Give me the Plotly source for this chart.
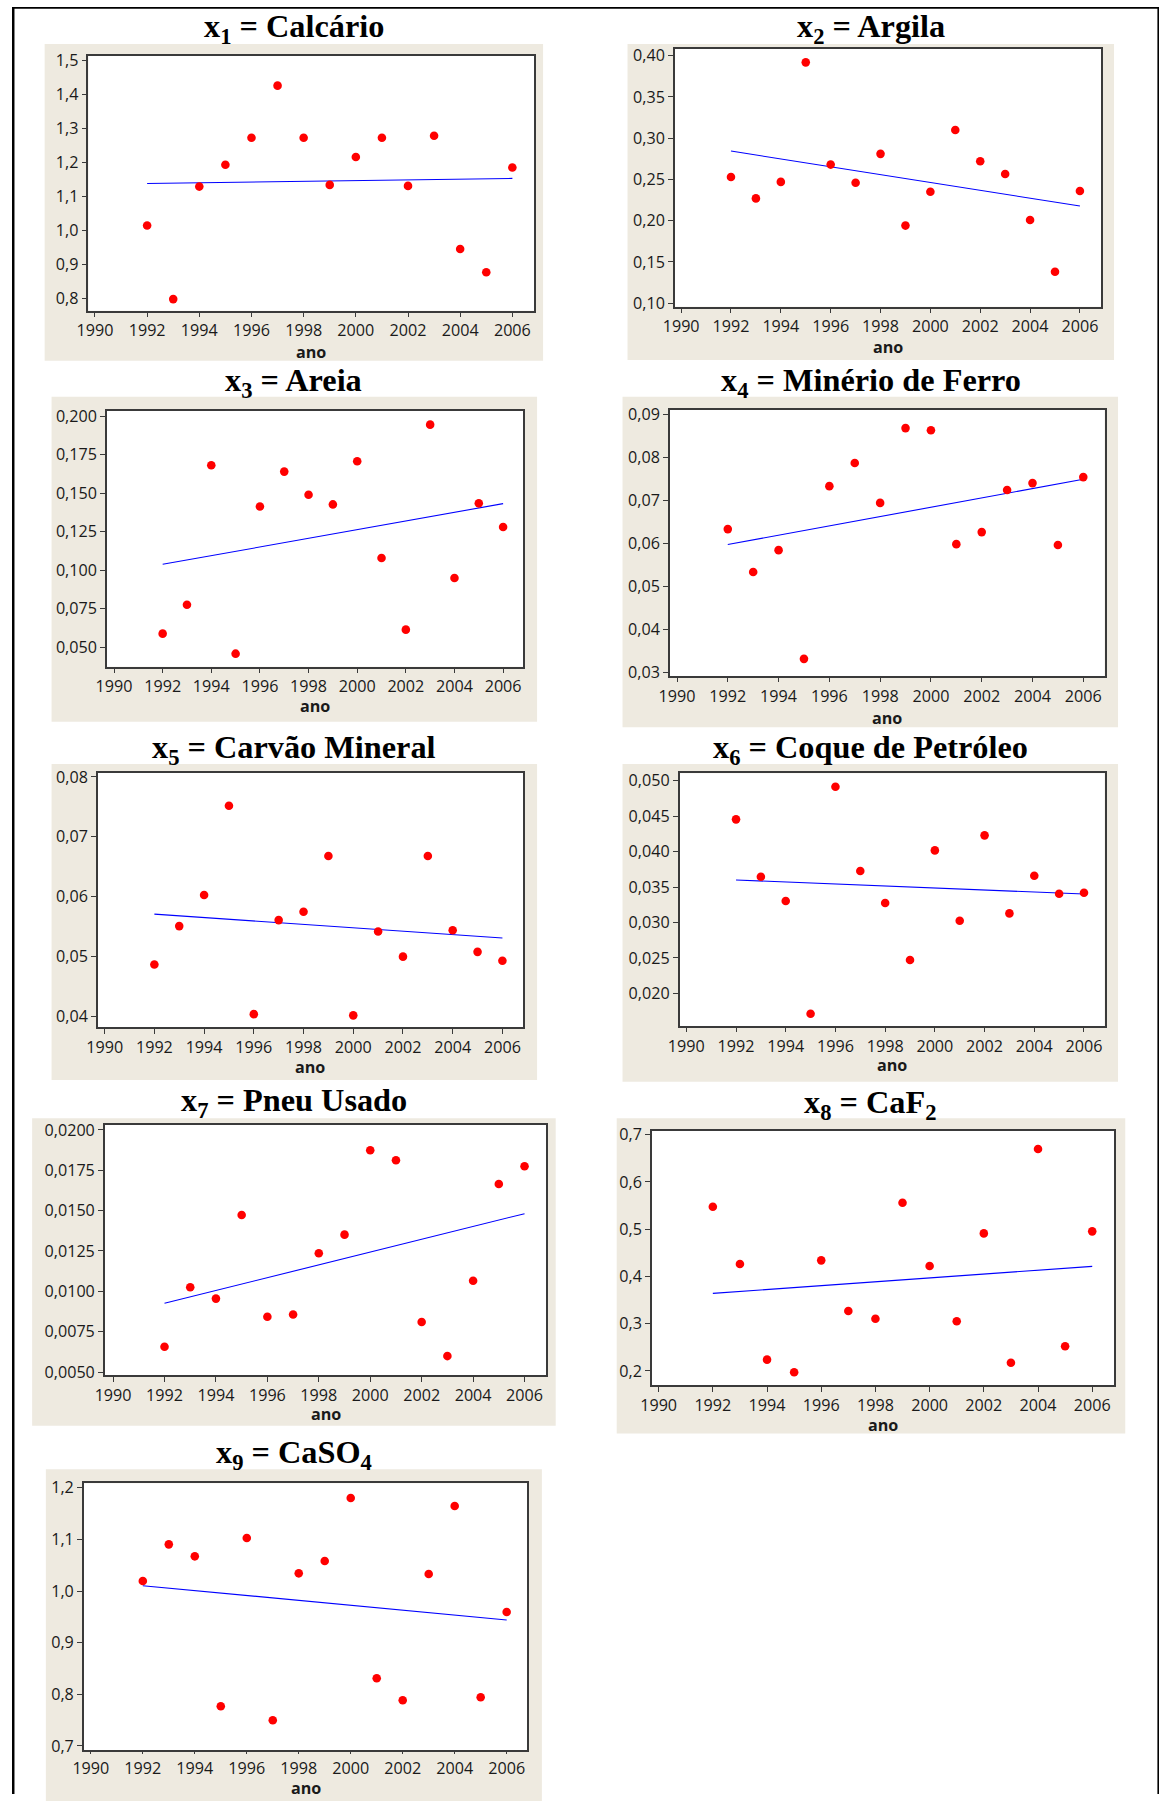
import plotly.graph_objects as go

# ---------------- data ----------------
years = [1992, 1993, 1994, 1995, 1996, 1997, 1998, 1999, 2000, 2001, 2002, 2003, 2004, 2005, 2006]
trend_years = [1992, 2006]

calcario = [1.015, 0.799, 1.129, 1.193, 1.272, 1.425, 1.272, 1.134, 1.216, 1.272, 1.131, 1.278, 0.946, 0.878, 1.185]
argila = [0.253, 0.227, 0.247, 0.392, 0.268, 0.246, 0.281, 0.194, 0.235, 0.310, 0.272, 0.2565, 0.2007, 0.138, 0.236]
areia = [0.0587, 0.0775, 0.168, 0.0457, 0.1413, 0.1639, 0.1489, 0.1426, 0.1706, 0.1078, 0.0613, 0.1944, 0.0948, 0.1433, 0.1279]
minerio_ferro = [0.0634, 0.0534, 0.0585, 0.0332, 0.0734, 0.0788, 0.0695, 0.0869, 0.0864, 0.0599, 0.0627, 0.0725, 0.0741, 0.0597, 0.0755]
carvao_mineral = [0.0487, 0.0551, 0.0603, 0.0752, 0.0404, 0.0561, 0.0575, 0.0668, 0.0402, 0.0542, 0.0500, 0.0668, 0.0544, 0.0508, 0.0493]
coque_petroleo = [0.04455, 0.03646, 0.03302, 0.01713, 0.04915, 0.03726, 0.03274, 0.0247, 0.04017, 0.03025, 0.04229, 0.03128, 0.0366, 0.03406, 0.0342]
pneu_usado = [0.00657, 0.01025, 0.00955, 0.01473, 0.00843, 0.00857, 0.01236, 0.01351, 0.01874, 0.01812, 0.0081, 0.00599, 0.01066, 0.01665, 0.01775]
caf2 = [0.5477, 0.4264, 0.224, 0.1972, 0.4341, 0.3269, 0.3107, 0.5561, 0.4221, 0.3051, 0.4912, 0.2176, 0.6697, 0.2522, 0.4955]
caso4 = [1.0194, 1.0903, 1.0671, 0.7768, 1.1026, 0.7497, 1.0342, 1.0581, 1.18, 0.831, 0.7884, 1.0329, 1.1645, 0.7942, 0.9594]

trend_calcario = [1.138, 1.153]
trend_argila = [0.2844, 0.2177]
trend_areia = [0.1037, 0.1431]
trend_minerio_ferro = [0.0598, 0.0750]
trend_carvao_mineral = [0.0571, 0.0531]
trend_coque_petroleo = [0.03599, 0.03401]
trend_pneu_usado = [0.00926, 0.01481]
trend_caf2 = [0.3643, 0.4214]
trend_caso4 = [1.0103, 0.9439]

titles = [
    "x<sub>1</sub> = Calcário",
    "x<sub>2</sub> = Argila",
    "x<sub>3</sub> = Areia",
    "x<sub>4</sub> = Minério de Ferro",
    "x<sub>5</sub> = Carvão Mineral",
    "x<sub>6</sub> = Coque de Petróleo",
    "x<sub>7</sub> = Pneu Usado",
    "x<sub>8</sub> = CaF<sub>2</sub>",
    "x<sub>9</sub> = CaSO<sub>4</sub>",
]
x_axis_title = "ano"
xtick_labels = ["1990", "1992", "1994", "1996", "1998", "2000", "2002", "2004", "2006"]

ytick_calcario = ["0,8", "0,9", "1,0", "1,1", "1,2", "1,3", "1,4", "1,5"]
ytick_argila = ["0,10", "0,15", "0,20", "0,25", "0,30", "0,35", "0,40"]
ytick_areia = ["0,050", "0,075", "0,100", "0,125", "0,150", "0,175", "0,200"]
ytick_minerio_ferro = ["0,03", "0,04", "0,05", "0,06", "0,07", "0,08", "0,09"]
ytick_carvao_mineral = ["0,04", "0,05", "0,06", "0,07", "0,08"]
ytick_coque_petroleo = ["0,020", "0,025", "0,030", "0,035", "0,040", "0,045", "0,050"]
ytick_pneu_usado = ["0,0050", "0,0075", "0,0100", "0,0125", "0,0150", "0,0175", "0,0200"]
ytick_caf2 = ["0,2", "0,3", "0,4", "0,5", "0,6", "0,7"]
ytick_caso4 = ["0,7", "0,8", "0,9", "1,0", "1,1", "1,2"]

series = [calcario, argila, areia, minerio_ferro, carvao_mineral, coque_petroleo, pneu_usado, caf2, caso4]
trends = [trend_calcario, trend_argila, trend_areia, trend_minerio_ferro, trend_carvao_mineral,
          trend_coque_petroleo, trend_pneu_usado, trend_caf2, trend_caso4]
yticks = [ytick_calcario, ytick_argila, ytick_areia, ytick_minerio_ferro, ytick_carvao_mineral,
          ytick_coque_petroleo, ytick_pneu_usado, ytick_caf2, ytick_caso4]

# ---------------- layout geometry (target picture pixels) ----------------
W, H = 1159, 1801
# correction for the observed picture transform (picture = A + B * page)
AX, BX = 12.5, 0.988
AY, BY = 6.9, 0.9923
SC = 1 / ((BX + BY) / 2)

# beige box (l, r, t, b), plot box (l, r, t, b), x range, y range, title (cx, cy), ano y, x tick length
geom = [
    dict(bg=(45.1, 542.7, 44, 360.7), pl=(88.8, 533.9, 56, 310.7), xr=(1989.75, 2006.84), yr=(0.7648, 1.5117), tc=(294, 28.5), ano=351.7, tl=4.5),
    dict(bg=(627, 1112.7, 44, 360), pl=(674.3, 1099.8, 49, 306.7), xr=(1989.75, 2006.85), yr=(0.0955, 0.4081), tc=(870, 28.5), ano=346.7, tl=4.5),
    dict(bg=(52, 536.7, 396.7, 721.7), pl=(107.3, 522.7, 410.7, 666.7), xr=(1989.71, 2006.82), yr=(0.0372, 0.2034), tc=(294, 382), ano=706, tl=4.5),
    dict(bg=(622, 1116.7, 396.7, 727.3), pl=(669.3, 1103.3, 410, 676), xr=(1989.72, 2006.84), yr=(0.0292, 0.0911), tc=(870, 382), ano=718.3, tl=4.5),
    dict(bg=(52, 536.7, 764, 1080), pl=(98.3, 522.7, 772.7, 1027.3), xr=(1989.73, 2006.83), yr=(0.0382, 0.0807), tc=(294, 749), ano=1067.3, tl=4.5),
    dict(bg=(622, 1116.7, 764, 1081.7), pl=(679, 1103.3, 773.3, 1026), xr=(1989.73, 2006.83), yr=(0.01539, 0.05104), tc=(870, 749), ano=1065, tl=4.5),
    dict(bg=(32.6, 555.3, 1118.3, 1425.7), pl=(105.2, 546, 1125, 1375.3), xr=(1989.68, 2006.85), yr=(0.0048, 0.0203), tc=(294, 1102), ano=1414.3, tl=4.5),
    dict(bg=(616.2, 1123.9, 1118.3, 1433.6), pl=(651.3, 1113.1, 1130.7, 1385.3), xr=(1989.75, 2006.82), yr=(0.1697, 0.7085), tc=(870, 1104), ano=1425, tl=4.5),
    dict(bg=(46.3, 541.5, 1469.3, 1801), pl=(84.2, 527.1, 1483.3, 1750), xr=(1989.73, 2006.8), yr=(0.6923, 1.2085), tc=(294, 1455), ano=1788, tl=2.5),
]


def px_x(d):
    return (d - AX) / BX


def px_y(d):
    return (d - AY) / BY


def fx(d):
    return px_x(d) / W


def fy(d):
    return 1 - px_y(d) / H


BEIGE = "#EEEAE0"
TEXT = "#1a1a1a"
AXIS = "#3a3a3a"
TICK_FONT = dict(family="Open Sans", size=16 * SC, color=TEXT)

fig = go.Figure()
shapes = []
annotations = []
layout_axes = {}

for i, g in enumerate(geom):
    n = i + 1
    xa = "x" if n == 1 else f"x{n}"
    ya = "y" if n == 1 else f"y{n}"
    l, r, t, b = g["pl"]
    bl, br, bt, bb = g["bg"]

    shapes.append(dict(type="rect", xref="paper", yref="paper", layer="below",
                       x0=fx(bl), x1=fx(br), y0=fy(bb), y1=fy(bt),
                       fillcolor=BEIGE, line=dict(width=0)))
    shapes.append(dict(type="rect", xref="paper", yref="paper", layer="below",
                       x0=fx(l), x1=fx(r), y0=fy(b), y1=fy(t),
                       fillcolor="white", line=dict(width=0)))

    fig.add_trace(go.Scatter(x=trend_years, y=trends[i], mode="lines",
                             line=dict(color="#0000FF", width=1.1),
                             xaxis=xa, yaxis=ya, showlegend=False, hoverinfo="skip"))
    fig.add_trace(go.Scatter(x=years, y=series[i], mode="markers",
                             marker=dict(color="#FF0000", size=8.5 * SC, line=dict(width=0)),
                             xaxis=xa, yaxis=ya, showlegend=False))

    xkey = "xaxis" if n == 1 else f"xaxis{n}"
    ykey = "yaxis" if n == 1 else f"yaxis{n}"
    layout_axes[xkey] = dict(
        domain=[fx(l), fx(r)], anchor=ya, range=list(g["xr"]),
        tickvals=[int(s) for s in xtick_labels], ticktext=xtick_labels,
        showgrid=False, zeroline=False, showline=True, mirror=True,
        linecolor=AXIS, linewidth=1.5, ticks="outside", ticklen=g["tl"],
        tickcolor=AXIS, tickwidth=1, tickfont=TICK_FONT,
    )
    layout_axes[ykey] = dict(
        domain=[fy(b), fy(t)], anchor=xa, range=list(g["yr"]),
        tickvals=[float(s.replace(",", ".")) for s in yticks[i]], ticktext=yticks[i],
        showgrid=False, zeroline=False, showline=True, mirror=True,
        linecolor=AXIS, linewidth=1.5, ticks="outside", ticklen=5,
        tickcolor=AXIS, tickwidth=1, tickfont=TICK_FONT,
    )

    annotations.append(dict(text=titles[i], xref="paper", yref="paper",
                            x=fx(g["tc"][0]), y=fy(g["tc"][1]),
                            xanchor="center", yanchor="middle", showarrow=False,
                            font=dict(family="Liberation Serif", size=32 * SC, color="black", weight="bold")))
    annotations.append(dict(text=f"<b>{x_axis_title}</b>", xref="paper", yref="paper",
                            x=fx((l + r) / 2), y=fy(g["ano"]),
                            xanchor="center", yanchor="middle", showarrow=False,
                            font=dict(family="Open Sans", size=16 * SC, color=TEXT)))

# outer frame lines (page pixels, clamped to the page)
frame = [
    (0, W, 0, 1.8),          # top line
    (0, 2.5, 0, H),          # left line
    (px_x(1156), W, 0, H),   # right line
]
for (x0, x1, y0, y1) in frame:
    shapes.append(dict(type="rect", xref="paper", yref="paper", layer="above",
                       x0=x0 / W, x1=x1 / W, y0=1 - y1 / H, y1=1 - y0 / H,
                       fillcolor="black", line=dict(width=0)))

fig.update_layout(
    width=W, height=H,
    margin=dict(l=0, r=0, t=0, b=0),
    paper_bgcolor="white", plot_bgcolor="rgba(0,0,0,0)",
    shapes=shapes, annotations=annotations,
    **layout_axes,
)

fig.write_html("out.html", config={"displayModeBar": False},
               post_script="document.body.style.margin='0';document.body.style.overflow='hidden';")
